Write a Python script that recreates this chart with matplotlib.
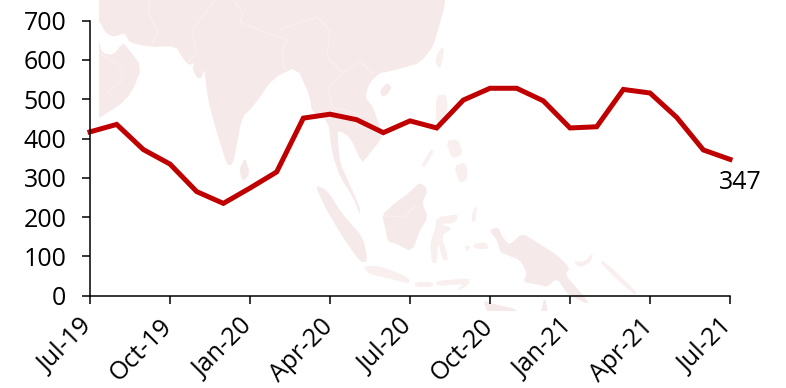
import matplotlib
matplotlib.use("Agg")
import matplotlib.pyplot as plt
from matplotlib.patches import Polygon, Rectangle
from matplotlib.transforms import ScaledTranslation

plt.rcParams['font.family'] = ['Open Sans', 'DejaVu Sans']

# monthly series, Jul-19 to Jul-21
values = [417, 436, 372, 335, 265, 235, 274, 315, 452, 462, 448, 415, 445,
          427, 498, 528, 528, 496, 427, 430, 525, 516, 454, 371, 347]
tick_labels = ['Jul-19', 'Oct-19', 'Jan-20', 'Apr-20', 'Jul-20', 'Oct-20',
               'Jan-21', 'Apr-21', 'Jul-21']
y_ticks = [0, 100, 200, 300, 400, 500, 600, 700]
last_label = '347'

# backdrop map outlines, in pixels from the top left of the figure
land = [
    # mainland Asia
    [(85, -15), (85, 10), (99, 20), (105, 32), (113, 37), (125, 33), (129, 42), (140, 45), (153, 47),
     (175, 46), (183, 58), (188, 65), (195, 63), (192, 68), (197, 78), (202, 78), (204, 68),
     (208, 100), (217, 133), (227, 165), (232, 165), (235, 155), (242, 117), (253, 107),
     (273, 78), (297, 67), (310, 97), (312, 112), (328, 120), (332, 153), (340, 177),
     (353, 197), (360, 215), (360, 208), (350, 185), (340, 163), (338, 140), (338, 130),
     (350, 137), (362, 163), (367, 157), (382, 138), (381, 130), (373, 107), (365, 97),
     (370, 82), (380, 73), (387, 72), (402, 68), (420, 63), (433, 47), (440, 23), (445, 5),
     (445, -15)],
    # Arabia
    [(85, 40), (99, 40), (102, 53), (113, 55), (123, 43), (127, 47), (142, 67), (132, 92),
     (120, 105), (99, 118), (85, 125)],
    # Sri Lanka, Hainan
    [(245, 157), (250, 173), (243, 182), (239, 170)],
    [(380, 90), (387, 83), (392, 87), (387, 95), (382, 97)],
    # Sumatra, Borneo
    [(315, 185), (327, 190), (343, 215), (363, 237), (368, 262), (360, 262), (340, 233),
     (325, 207)],
    [(382, 215), (395, 203), (410, 192), (420, 182), (428, 190), (422, 203), (428, 217),
     (420, 230), (412, 252), (395, 243), (388, 242), (385, 227)],
    # New Guinea
    [(489, 230), (498, 227), (503, 238), (510, 245), (522, 233), (538, 243), (557, 255),
     (570, 268), (565, 275), (583, 295), (590, 305), (568, 295), (557, 278), (547, 287),
     (540, 285), (523, 282), (527, 273), (520, 260), (507, 255), (500, 252), (497, 240)],
    # top of Australia, cut off below the axis
    [(483, 300), (493, 304), (517, 309), (520, 320), (490, 320)],
    [(545, 295), (549, 320), (539, 320)],
]
faint_land = [
    # Taiwan
    [(443, 46), (444, 53), (440, 70), (435, 62), (437, 54)],
    # Java
    [(363, 266), (380, 266), (408, 277), (410, 284), (387, 278), (369, 274)],
    # Sulawesi
    [(437, 217), (459, 214), (455, 223), (440, 224), (453, 228), (441, 236), (449, 259),
     (443, 261), (438, 241), (437, 263), (432, 263), (430, 243), (435, 230)],
    # Philippines
    [(436, 96), (446, 94), (448, 107), (444, 124), (436, 123)],
    [(446, 141), (458, 139), (463, 154), (452, 159)],
    [(454, 166), (466, 162), (468, 178), (460, 184)],
    [(421, 166), (431, 149), (434, 151), (425, 167)],
    # Moluccas
    [(472, 213), (477, 205), (476, 220), (472, 223)],
    [(473, 244), (486, 242), (489, 249), (475, 249)],
    [(464, 245), (471, 247), (467, 252)],
    # lesser islands
    [(573, 261), (585, 262), (593, 252), (591, 262), (580, 268)],
    [(415, 282), (433, 282), (433, 287), (415, 287)],
    [(435, 281), (470, 278), (468, 284), (437, 286)],
    [(603, 260), (637, 292), (634, 295), (600, 263)],
    [(460, 286), (470, 281), (468, 285), (458, 291)],
]
borders = [
    [(150, 0), (148, 13), (158, 33), (152, 43)],
    [(215, 0), (192, 30), (197, 53), (187, 63)],
    [(235, 2), (243, 13), (240, 22), (267, 33), (287, 40), (282, 50), (285, 70)],
    [(280, 30), (297, 23), (317, 17), (330, 30), (327, 57), (343, 73), (360, 62), (373, 73)],
    [(343, 73), (328, 88), (332, 107), (357, 113)],
    [(99, 53), (122, 67), (122, 80), (107, 93)],
    [(384, 216), (405, 217), (415, 205)],
]


def soften(shape, rounds=1):
    # corner cutting, keeps the coastlines from looking faceted
    for _ in range(rounds):
        cut = []
        for i, (x0, y0) in enumerate(shape):
            x1, y1 = shape[(i + 1) % len(shape)]
            cut.append((0.8 * x0 + 0.2 * x1, 0.8 * y0 + 0.2 * y1))
            cut.append((0.2 * x0 + 0.8 * x1, 0.2 * y0 + 0.8 * y1))
        shape = cut
    return shape


fig = plt.figure(figsize=(7.86, 3.88), dpi=100)

# map layer sits under the chart
bg = fig.add_axes([0, 0, 1, 1], zorder=0)
bg.set_xlim(0, 786)
bg.set_ylim(388, 0)
bg.axis('off')
map_area = Rectangle((99, 0), 600, 311, transform=bg.transData)
for shapes, colour in [(land, '#f6e9e9'), (faint_land, '#f9efef')]:
    for shape in shapes:
        patch = Polygon(soften(shape), closed=True, facecolor=colour, edgecolor='none')
        bg.add_patch(patch)
        patch.set_clip_path(map_area)
for line in borders:
    bg.plot([p[0] for p in line], [p[1] for p in line], color='#faf1f1', lw=0.7)

ax = fig.add_axes([90 / 786, (388 - 295.7) / 388, 640 / 786, 275 / 388], zorder=1)
ax.patch.set_alpha(0)

x = list(range(len(values)))
ax.plot(x, values, color='#c00000', lw=3.6, solid_joinstyle='miter', clip_on=False)

ax.set_xlim(0, 24)
ax.set_ylim(0, 700)
ax.set_yticks(y_ticks)
ax.set_xticks(x[::3])
ax.set_xticklabels(tick_labels, rotation=45, ha='right', va='top', rotation_mode='anchor')

ax.spines['top'].set_visible(False)
ax.spines['right'].set_visible(False)
ax.spines['left'].set_linewidth(1.1)
ax.spines['bottom'].set_linewidth(1.1)
ax.tick_params(axis='both', length=6, width=1.1, labelsize=18, colors='black')
ax.tick_params(axis='x', pad=5)
ax.tick_params(axis='y', pad=11)

# nudge the slanted labels so they end under their ticks
shift = ScaledTranslation(-0.1, -0.03, fig.dpi_scale_trans)
for label in ax.get_xticklabels():
    label.set_transform(label.get_transform() + shift)

ax.annotate(last_label, (x[-1], values[-1]), xytext=(10, -11), textcoords='offset pixels',
            ha='center', va='top', fontsize=18, color='black', annotation_clip=False)

fig.savefig('out.png', dpi=100)
